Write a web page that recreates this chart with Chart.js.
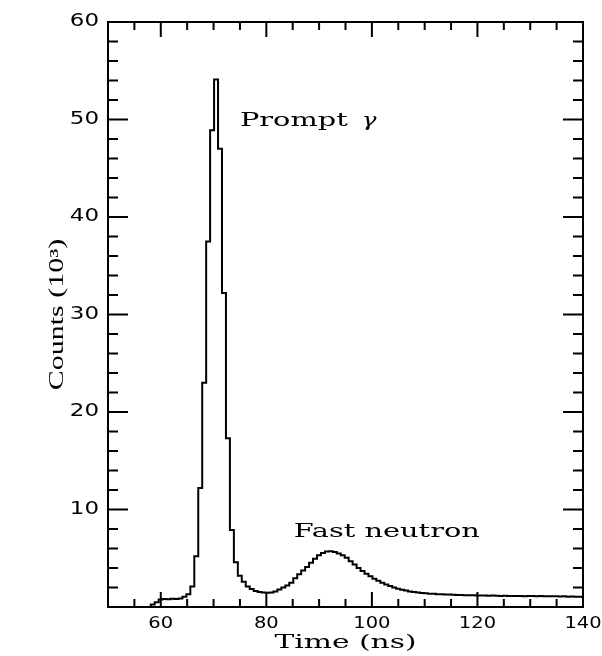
<!DOCTYPE html>
<html>
<head>
<meta charset="utf-8">
<title>Time-of-flight spectrum</title>
<script src="https://cdn.jsdelivr.net/npm/chart.js@4.4.1/dist/chart.umd.min.js"></script>
<style>
  html, body { margin: 0; padding: 0; background: #fff; }
  #wrap { width: 602px; height: 656px; }
</style>
</head>
<body>
<div id="wrap"><canvas id="tof" width="602" height="656"></canvas></div>
<script>
// TDC calibration: first channel edge and channel width (ns)
const tdcStart = 58.1;
const channelWidth = 0.75;

// counts per channel, units of 10^3
const counts = [
  0.25, 0.5, 0.78, 0.82, 0.8, 0.84, 0.83, 0.88, 1.05, 1.3,
  2.1, 5.2, 12.2, 23.0, 37.5, 48.9, 54.1, 47.0, 32.2, 17.3,
  7.9, 4.6, 3.2, 2.6, 2.1, 1.85, 1.65, 1.55, 1.5, 1.45,
  1.5, 1.6, 1.8, 2.0, 2.2, 2.5, 2.95, 3.35, 3.75, 4.1,
  4.55, 4.95, 5.3, 5.55, 5.7, 5.72, 5.65, 5.5, 5.3, 5.05,
  4.7, 4.35, 4.0, 3.7, 3.4, 3.15, 2.9, 2.7, 2.5, 2.3,
  2.15, 2.0, 1.88, 1.78, 1.7, 1.6, 1.55, 1.48, 1.44, 1.4,
  1.36, 1.35, 1.31, 1.32, 1.28, 1.27, 1.26, 1.23, 1.24, 1.21,
  1.2, 1.21, 1.18, 1.19, 1.17, 1.16, 1.17, 1.15, 1.14, 1.16,
  1.13, 1.14, 1.12, 1.13, 1.11, 1.13, 1.12, 1.1, 1.12, 1.1,
  1.11, 1.09, 1.1, 1.08, 1.09, 1.06, 1.07, 1.04, 1.05, 1.02
];

const xRange = [50, 140];
const yRange = [0, 60];
const xLabelTicks = [60, 80, 100, 120, 140];
const yLabelTicks = [10, 20, 30, 40, 50, 60];
const xMinorStep = 5;
const yMinorStep = 2;

const xTitle = 'Time (ns)';
const yTitle = 'Counts (10\u00B3)';

// peak annotations, placed in data units (ns, 10^3 counts)
const peakNotes = [
  { text: 'Prompt', symbol: '\u03B3', t: 75, c: 49.3 },
  { text: 'Fast neutron', t: 85.2, c: 7.2 }
];

const points = [{ x: tdcStart, y: 0 }];
counts.forEach((c, i) => points.push({ x: tdcStart + i * channelWidth, y: c }));
points.push({ x: tdcStart + counts.length * channelWidth, y: counts[counts.length - 1] });

// old plotter lettering is wide, so text gets stretched horizontally
function wideText(ctx, text, x, y, font, stretch, align) {
  ctx.save();
  ctx.font = font;
  const w = ctx.measureText(text).width * stretch;
  let left = x;
  if (align === 'center') left = x - w / 2;
  else if (align === 'right') left = x - w;
  ctx.translate(left, y);
  ctx.scale(stretch, 1);
  ctx.textAlign = 'left';
  ctx.fillText(text, 0, 0);
  ctx.restore();
  return w;
}

const paperAxes = {
  id: 'paperAxes',
  afterDraw(chart) {
    const { ctx, chartArea: a } = chart;
    const x = chart.scales.x, y = chart.scales.y;
    ctx.save();
    ctx.strokeStyle = '#000';
    ctx.fillStyle = '#000';
    ctx.lineWidth = 2;
    ctx.strokeRect(a.left, a.top, a.right - a.left, a.bottom - a.top);

    // tick marks point inwards on every side
    ctx.beginPath();
    for (let v = xRange[0] + xMinorStep; v < xRange[1]; v += xMinorStep) {
      const px = x.getPixelForValue(v);
      const len = xLabelTicks.includes(v) ? 15 : 8;
      ctx.moveTo(px, a.bottom); ctx.lineTo(px, a.bottom - len);
      ctx.moveTo(px, a.top); ctx.lineTo(px, a.top + len);
    }
    for (let v = yRange[0] + yMinorStep; v < yRange[1]; v += yMinorStep) {
      const py = y.getPixelForValue(v);
      const len = v % 10 === 0 ? 20 : 10;
      ctx.moveTo(a.left, py); ctx.lineTo(a.left + len, py);
      ctx.moveTo(a.right, py); ctx.lineTo(a.right - len, py);
    }
    ctx.stroke();

    ctx.textBaseline = 'middle';
    xLabelTicks.forEach(v => {
      wideText(ctx, String(v), x.getPixelForValue(v), a.bottom + 17, '15px "DejaVu Sans"', 1.3, 'center');
    });
    yLabelTicks.forEach(v => {
      wideText(ctx, String(v), a.left - 9, y.getPixelForValue(v), '17px "DejaVu Sans"', 1.35, 'right');
    });

    wideText(ctx, xTitle, (a.left + a.right) / 2, a.bottom + 36, '18px "DejaVu Serif"', 1.65, 'center');

    ctx.save();
    ctx.translate(a.left - 50, (a.top + a.bottom) / 2);
    ctx.rotate(-Math.PI / 2);
    wideText(ctx, yTitle, 0, 0, '20px "Liberation Serif"', 1.5, 'center');
    ctx.restore();

    ctx.textBaseline = 'alphabetic';
    peakNotes.forEach(n => {
      const px = x.getPixelForValue(n.t);
      const py = y.getPixelForValue(n.c);
      const w = wideText(ctx, n.text, px, py, '18px "DejaVu Serif"', 1.6, 'left');
      if (n.symbol) {
        wideText(ctx, n.symbol, px + w + 14, py, 'italic 19px "DejaVu Serif"', 1.3, 'left');
      }
    });
    ctx.restore();
  }
};

new Chart(document.getElementById('tof'), {
  type: 'line',
  data: {
    datasets: [{
      data: points,
      borderColor: '#000',
      borderWidth: 2,
      pointRadius: 0,
      stepped: 'before',
      fill: false
    }]
  },
  options: {
    responsive: false,
    animation: false,
    devicePixelRatio: 1,
    layout: { padding: { left: 108, right: 19, top: 22, bottom: 49 } },
    plugins: { legend: { display: false }, tooltip: { enabled: false } },
    scales: {
      x: { type: 'linear', min: xRange[0], max: xRange[1], display: false },
      y: { type: 'linear', min: yRange[0], max: yRange[1], display: false }
    }
  },
  plugins: [paperAxes]
});
</script>
</body>
</html>
